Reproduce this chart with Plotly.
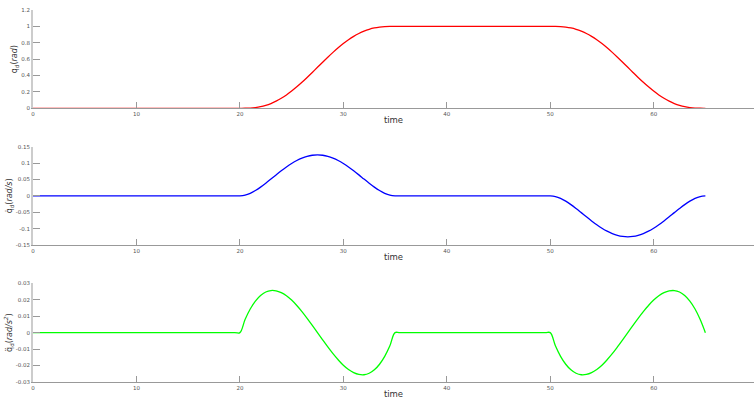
import plotly.graph_objects as go

# ---- data ----
time = [0, 19.5,
        20, 20.5, 21, 21.5, 22, 22.5, 23, 23.5, 24, 24.5, 25, 25.5, 26, 26.5, 27, 27.5,
        28, 28.5, 29, 29.5, 30, 30.5, 31, 31.5, 32, 32.5, 33, 33.5, 34, 34.5, 35,
        35.5, 49.5,
        50, 50.5, 51, 51.5, 52, 52.5, 53, 53.5, 54, 54.5, 55, 55.5, 56, 56.5, 57, 57.5,
        58, 58.5, 59, 59.5, 60, 60.5, 61, 61.5, 62, 62.5, 63, 63.5, 64, 64.5, 65]

q_pos = [0, 0,
         0, 0.0004, 0.0027, 0.0086, 0.0192, 0.0355, 0.0579, 0.0867, 0.1219, 0.1631, 0.2099, 0.2616, 0.3174, 0.3765, 0.4377, 0.5,
         0.5623, 0.6235, 0.6826, 0.7384, 0.7901, 0.8369, 0.8781, 0.9133, 0.9421, 0.9645, 0.9808, 0.9914, 0.9973, 0.9996, 1.0,
         1.0, 1.0,
         1.0, 0.9996, 0.9973, 0.9914, 0.9808, 0.9645, 0.9421, 0.9133, 0.8781, 0.8369, 0.7901, 0.7384, 0.6826, 0.6235, 0.5623, 0.5,
         0.4377, 0.3765, 0.3174, 0.2616, 0.2099, 0.1631, 0.1219, 0.0867, 0.0579, 0.0355, 0.0192, 0.0086, 0.0027, 0.0004, 0]

q_vel = [0, 0,
         0, 0.0021, 0.0077, 0.0162, 0.0267, 0.0386, 0.0512, 0.0640, 0.0765, 0.0882, 0.0988, 0.1079, 0.1152, 0.1206, 0.1239, 0.125,
         0.1239, 0.1206, 0.1152, 0.1079, 0.0988, 0.0882, 0.0765, 0.0640, 0.0512, 0.0386, 0.0267, 0.0162, 0.0077, 0.0021, 0,
         0, 0,
         0, -0.0021, -0.0077, -0.0162, -0.0267, -0.0386, -0.0512, -0.0640, -0.0765, -0.0882, -0.0988, -0.1079, -0.1152, -0.1206, -0.1239, -0.125,
         -0.1239, -0.1206, -0.1152, -0.1079, -0.0988, -0.0882, -0.0765, -0.0640, -0.0512, -0.0386, -0.0267, -0.0162, -0.0077, -0.0021, 0]

q_acc = [0, 0,
         0, 0.0080, 0.0144, 0.0192, 0.0226, 0.0247, 0.0256, 0.0254, 0.0243, 0.0224, 0.0198, 0.0165, 0.0128, 0.0087, 0.0044, 0,
         -0.0044, -0.0087, -0.0128, -0.0165, -0.0198, -0.0224, -0.0243, -0.0254, -0.0256, -0.0247, -0.0226, -0.0192, -0.0144, -0.0080, 0,
         0, 0,
         0, -0.0080, -0.0144, -0.0192, -0.0226, -0.0247, -0.0256, -0.0254, -0.0243, -0.0224, -0.0198, -0.0165, -0.0128, -0.0087, -0.0044, 0,
         0.0044, 0.0087, 0.0128, 0.0165, 0.0198, 0.0224, 0.0243, 0.0254, 0.0256, 0.0247, 0.0226, 0.0192, 0.0144, 0.0080, 0]

x_ticks = [0, 10, 20, 30, 40, 50, 60]
y1_ticks = [0, 0.2, 0.4, 0.6, 0.8, 1, 1.2]
y1_text = ["0", "0.2", "0.4", "0.6", "0.8", "1", "1.2"]
y2_ticks = [-0.15, -0.1, -0.05, 0, 0.05, 0.1, 0.15]
y2_text = ["-0.15", "-0.1", "-0.05", "0", "0.05", "0.1", "0.15"]
y3_ticks = [-0.03, -0.02, -0.01, 0, 0.01, 0.02, 0.03]
y3_text = ["-0.03", "-0.02", "-0.01", "0", "0.01", "0.02", "0.03"]

y_titles = ["q<sub>d</sub>(<i>rad</i>)",
            "q\u0307<sub>d</sub>(<i>rad/s</i>)",
            "q\u0308<sub>d</sub>(<i>rad/s<sup>2</sup></i>)"]

FONT = "DejaVu Sans"
LINE = dict(width=1.3, shape="spline", smoothing=1)

fig = go.Figure()
fig.add_trace(go.Scatter(x=time, y=q_pos, mode="lines", line=dict(color="#ff0000", **LINE),
                         xaxis="x", yaxis="y", showlegend=False))
fig.add_trace(go.Scatter(x=time, y=q_vel, mode="lines", line=dict(color="#0000ff", **LINE),
                         xaxis="x2", yaxis="y2", showlegend=False))
fig.add_trace(go.Scatter(x=time, y=q_acc, mode="lines", line=dict(color="#00ff00", **LINE),
                         xaxis="x3", yaxis="y3", showlegend=False))

domains = [[0.7358, 1.0], [0.3683, 0.6325], [0.0, 0.2653]]
ytv = [(y1_ticks, y1_text, [0, 1.2]), (y2_ticks, y2_text, [-0.15, 0.15]), (y3_ticks, y3_text, [-0.03, 0.03])]

layout = dict(
    width=754, height=402,
    margin=dict(l=33, r=0, t=10, b=20),
    paper_bgcolor="white", plot_bgcolor="white",
    font=dict(family=FONT, color="#444"),
)
for i in range(3):
    xs = "xaxis" if i == 0 else f"xaxis{i+1}"
    ys = "yaxis" if i == 0 else f"yaxis{i+1}"
    yanchor = "y" if i == 0 else f"y{i+1}"
    xanchor = "x" if i == 0 else f"x{i+1}"
    tv, tt, rng = ytv[i]
    layout[xs] = dict(
        domain=[0, 1], anchor=yanchor, range=[0, 69.7], automargin=False,
        tickvals=x_ticks, ticktext=[str(v) for v in x_ticks],
        ticks="inside", ticklen=6, tickcolor="#999", tickwidth=1,
        showline=True, linecolor="#999", linewidth=1,
        showgrid=False, zeroline=False,
        tickfont=dict(size=5.5, color="#555", family=FONT),
        title=dict(text="time", font=dict(size=8.5, color="#333", family=FONT), standoff=1),
    )
    layout[ys] = dict(
        domain=domains[i], anchor=xanchor, range=rng, automargin=False,
        tickvals=tv, ticktext=tt,
        ticks="inside", ticklen=7, tickcolor="#999", tickwidth=1,
        showline=True, linecolor="#cccccc", linewidth=2,
        showgrid=False, zeroline=False,
        tickfont=dict(size=5.5, color="#555", family=FONT),
        title=dict(text=y_titles[i], font=dict(size=8, color="#333", family=FONT), standoff=2),
    )
fig.update_layout(**layout)
# remove the browser's default 8px page margin so the 754x402 figure fills the window exactly
fig.write_html("out.html", config={"displayModeBar": False},
               post_script="document.body.style.margin='0px';")
